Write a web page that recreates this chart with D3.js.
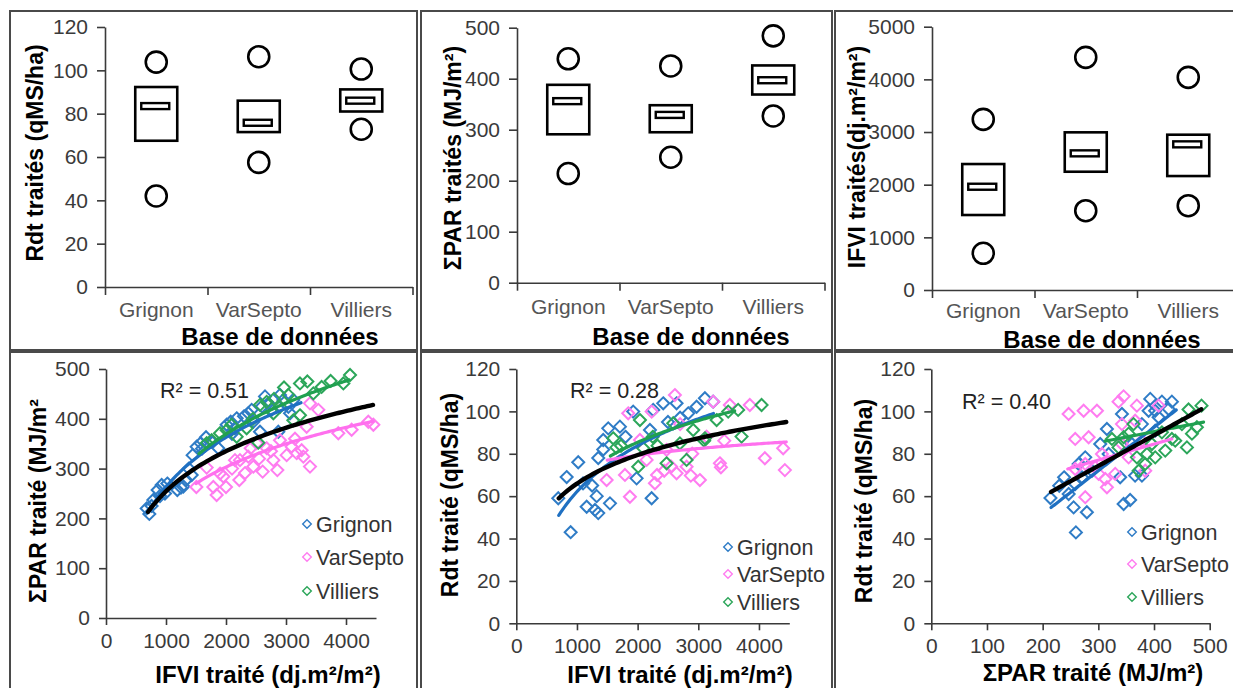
<!DOCTYPE html>
<html>
<head>
<meta charset="utf-8">
<script src="https://cdn.jsdelivr.net/npm/d3@7"></script>
<style>
  body { margin: 0; background: #fff; }
  svg { display: block; }
  text { font-family: "Liberation Sans", Arial, sans-serif; }
</style>
</head>
<body>
<svg id="chart" width="1233" height="688"></svg>
<script>
// ---- data ---------------------------------------------------------------
const sites = ["Grignon", "VarSepto", "Villiers"];

// Summary per site: low / high (circles), box bounds and median
const rdtLow  = [42, 57.5, 72.8];
const rdtQ1   = [67.5, 71.5, 81];
const rdtMed  = [83.5, 75.8, 86];
const rdtQ3   = [92.3, 86, 91.2];
const rdtHigh = [103.8, 106.3, 100.6];

const parLow  = [214, 246, 327];
const parQ1   = [291, 295, 369];
const parMed  = [356, 329, 397];
const parQ3   = [388, 348, 426];
const parHigh = [439, 425, 484];

const ifviLow  = [697, 1506, 1601];
const ifviQ1   = [1424, 2246, 2164];
const ifviMed  = [1961, 2595, 2766];
const ifviQ3   = [2392, 2994, 2949];
const ifviHigh = [3241, 4418, 4038];

const rdtTicks  = [0, 20, 40, 60, 80, 100, 120];
const parTicks  = [0, 100, 200, 300, 400, 500];
const ifviTicks = [0, 1000, 2000, 3000, 4000, 5000];
const ifviXTicks = [0, 1000, 2000, 3000, 4000];

// ΣPAR (MJ/m²) against IFVI (dj.m²/m²)
const parIfviGrignon = [[678,220],[722,209],[789,237],[861,257],[928,267],[1022,270],[983,250],[1189,257],[1289,264],[1333,277],[1428,287],[1444,327],[1511,344],[1578,351],[1667,363],[1761,354],[1872,341],[2011,388],[2078,394],[2150,381],[2178,401],[2372,411],[2428,418],[2456,394],[2567,374],[2650,445],[2706,431],[2761,418],[2872,374],[2900,448],[2956,438],[3039,424],[3067,411],[3122,438],[760,225],[1250,262],[1600,340],[2100,370],[2300,405],[2600,425],[1380,300],[900,245]];
const parIfviVarSepto = [[1506,263],[1678,302],[1789,263],[1844,247],[1956,284],[2000,263],[2150,317],[2222,277],[2317,291],[2372,324],[2411,341],[2456,304],[2611,294],[2678,341],[2789,317],[2856,297],[2900,357],[3011,327],[3094,344],[3178,331],[3261,337],[3289,324],[3400,304],[3344,384],[3400,431],[3539,418],[3872,371],[4094,378],[4372,394],[4456,388],[2511,351],[2233,317],[2100,300],[2550,320],[2750,335],[3150,360],[1900,290]];
const parIfviVilliers = [[1678,351],[1761,357],[1900,371],[2011,377],[2094,388],[2178,364],[2344,381],[2539,352],[2567,428],[2678,434],[2789,411],[2900,424],[2967,463],[3039,448],[3233,407],[3233,471],[3356,475],[3456,451],[3594,464],[3744,476],[3956,471],[4067,488],[3122,397],[2450,400],[2800,440]];

// Rdt (qMS/ha) against IFVI
const rdtIfviGrignon = [[692,59],[830,69],[896,43],[1021,76],[1160,55],[1325,60],[1297,53.5],[1351,52],[1544,56.6],[1516,92],[1708,92.8],[1351,78],[1433,82],[1927,99.9],[1983,68.4],[2231,59],[2257,100.7],[2422,103.8],[2642,103.8],[2834,99.1],[2972,102.2],[3109,106.2],[3245,104.6],[1433,86.5],[2203,91.2],[2500,95],[2700,97],[1800,88],[1250,65],[1100,66]];
const rdtIfviVarSepto = [[1489,67.6],[1791,70],[1845,99.1],[1873,59.7],[2231,99.9],[2285,66.1],[2320,70],[2614,107.7],[2642,70.8],[2807,73.9],[3026,67.6],[3245,104.6],[3356,75.5],[3520,103],[3849,103],[4097,77.9],[4399,82.6],[4427,72.3],[2038,86.5],[2477,81.8],[3137,88.1],[2900,80],[2148,77.1],[2550,74],[3373,73.6],[3428,86.2],[2877,69.7],[2438,72],[2700,94]];
const rdtIfviVilliers = [[1598,87.3],[1650,83],[2038,95.9],[2093,82.6],[2010,73.9],[2477,75.5],[2587,94.4],[2807,77.1],[2916,91.2],[3109,87.3],[3302,95.9],[3493,99.9],[3657,100.7],[3713,88.1],[4043,103],[2697,84.9],[2250,88],[1726,83.8],[2329,83.8],[3097,86.2]];

// Rdt (qMS/ha) against ΣPAR
const rdtParGrignon = [[214,59.1],[238.5,68.9],[255.6,54.7],[259.7,42.9],[264.6,75.2],[276.5,78.3],[279.4,52.4],[315.4,91.7],[342.4,98.8],[339.2,68.9],[345.4,56.3],[357.1,58.2],[366,69.7],[393.2,105.9],[402,100.3],[414.2,104.6],[432.1,104.6],[378.2,94],[229.8,64.9],[246.7,61],[258.5,65.7],[270.6,68.9],[288.5,72],[303.4,84.6],[318.5,79.9],[360.3,84.6],[378.3,69.7],[390.3,100.3],[408.2,97.2],[426.2,101.1],[402.2,90.9]];
const rdtParVarSepto = [[246.6,98.8],[273.6,100.3],[297.5,100.3],[258.5,87],[282.6,87.8],[276.5,59.5],[336.3,104.6],[345.4,107.1],[369.2,102.7],[408.2,102.7],[315.4,64.2],[384.2,72],[300.5,70.5],[342.4,94],[258.5,72.8],[276.5,75.2],[294.5,73.6],[306.5,79.9],[312.4,68.1],[330.3,70.5],[342.4,84.6],[354.4,78.3],[366.2,95.6],[378.3,86.2]];
const rdtParVilliers = [[324.4,87],[354.4,89.5],[363.2,94],[369.2,78.3],[384.2,75.2],[396.2,84.6],[414.2,90.1],[432.1,87],[459.1,83],[468.1,89.5],[462,100.9],[485.3,102.7],[336.3,83],[345.4,87.8],[372.4,72],[387.3,79.9],[402.2,78.3],[420.2,81.5],[438.1,86.2],[450.1,94],[477,92.5]];

// Trend lines: [a, b, xmin, xmax]; log fits y = a·ln(x) + b, linear fits y = a·x + b
const fitParIfvi = [[143.4, -727.4, 700, 3250], [115, -571, 1500, 4450], [154, -801.3, 1550, 4050]];
const fitParIfviAll = [116.2, -548.3, 700, 4450];
const fitRdtIfvi = [[31.3, -154.1, 700, 3250], [7.9, 19.2, 1500, 4450], [25.3, -106.9, 1550, 3600]];
const fitRdtIfviAll = [19.46, -68.5, 700, 4450];
const fitRdtPar = [[0.2047, 10.6, 215, 440], [0.0757, 54.3, 245, 432], [0.0508, 70.1, 312, 489]];
const fitRdtParAll = [0.1444, 30.95, 215, 485];

const r2Labels = ["R² = 0.51", "R² = 0.28", "R² = 0.40"];

// ---- styling --------------------------------------------------------------
const siteColors  = ["#2f7cc6", "#ff7cf0", "#2ca65a"];
const trendColors = ["#1f70c2", "#ff70ee", "#20a050"];
const axisColor = "#3a3a3a";
const tickTextColor = "#3a3a3a";
const numFmt = d3.format("d");

const svg = d3.select("#chart");
const defs = svg.append("defs");

const frames = [
  { id: "p1", x: 10,  y: 11,  w: 407, h: 339 },
  { id: "p2", x: 421, y: 11,  w: 411, h: 339 },
  { id: "p3", x: 835, y: 11,  w: 420, h: 339 },
  { id: "p4", x: 10,  y: 352, w: 407, h: 350 },
  { id: "p5", x: 421, y: 352, w: 411, h: 350 },
  { id: "p6", x: 835, y: 352, w: 420, h: 350 }
];
frames.forEach(f => {
  defs.append("clipPath").attr("id", "clip-" + f.id)
    .append("rect").attr("x", f.x).attr("y", f.y).attr("width", f.w).attr("height", f.h);
});

function styleAxis(sel) {
  sel.selectAll(".domain").attr("stroke", axisColor).attr("stroke-width", 1.6);
  sel.selectAll(".tick line").attr("stroke", axisColor).attr("stroke-width", 1.6);
  sel.selectAll(".tick text").attr("fill", tickTextColor)
    .style("font-size", "21px").style("font-family", '"Liberation Sans", Arial, sans-serif');
}

function yTitle(g, text, cx, cy) {
  g.append("text")
    .attr("transform", `translate(${cx},${cy}) rotate(-90)`)
    .attr("text-anchor", "middle").attr("dy", "0.35em")
    .style("font-size", "23px").style("font-weight", "bold").attr("fill", "#000")
    .text(text);
}
function xTitle(g, text, cx, baseline) {
  g.append("text").attr("x", cx).attr("y", baseline)
    .attr("text-anchor", "middle")
    .style("font-size", "24px").style("font-weight", "bold").attr("fill", "#000")
    .text(text);
}

// ---- summary panels (top row) --------------------------------------------
function drawSummary(p) {
  const g = svg.append("g").attr("clip-path", `url(#clip-${p.id})`);
  const x = d3.scaleBand().domain(sites).range([p.left, p.left + 3 * p.step]);
  const xb = d3.scaleLinear().domain([0, 3]).range(x.range());
  const y = d3.scaleLinear().domain([0, p.max]).range([p.bottom, p.top]);

  g.append("g").attr("transform", `translate(${p.left},0)`)
    .call(d3.axisLeft(y).tickValues(p.ticks).tickFormat(numFmt).tickSize(8).tickSizeOuter(0).tickPadding(9))
    .call(styleAxis);
  g.append("g").attr("transform", `translate(0,${p.bottom})`)
    .call(d3.axisBottom(xb).tickValues([0, 1, 2, 3]).tickSize(8).tickSizeOuter(0).tickFormat(""))
    .call(styleAxis);

  const rows = sites.map((s, i) => ({
    site: s, low: p.low[i], q1: p.q1[i], med: p.med[i], q3: p.q3[i], high: p.high[i]
  }));
  const cx = d => x(d.site) + x.bandwidth() / 2;

  g.selectAll(".box").data(rows).join("rect")
    .attr("x", d => cx(d) - 21).attr("width", 42)
    .attr("y", d => y(d.q3)).attr("height", d => y(d.q1) - y(d.q3))
    .attr("fill", "#fff").attr("stroke", "#000").attr("stroke-width", 2.6);
  g.selectAll(".med").data(rows).join("rect")
    .attr("x", d => cx(d) - 15).attr("width", 28)
    .attr("y", d => y(d.med) - 3).attr("height", 6)
    .attr("fill", "#fff").attr("stroke", "#000").attr("stroke-width", 2.4);
  ["low", "high"].forEach(k => {
    g.selectAll(".c" + k).data(rows).join("circle")
      .attr("cx", cx).attr("cy", d => y(d[k])).attr("r", 10.5)
      .attr("fill", "#fff").attr("stroke", "#000").attr("stroke-width", 2.6);
  });

  g.selectAll(".cat").data(rows).join("text")
    .attr("x", cx).attr("y", p.catY).attr("dy", "0.35em")
    .attr("text-anchor", "middle").attr("fill", "#555")
    .style("font-size", "21px").text(d => d.site);

  yTitle(g, p.yTitle, p.yTitleX, p.yTitleY);
  xTitle(g, "Base de données", p.xTitleX, p.xTitleY);
}

drawSummary({ id: "p1", left: 105, step: 102.5, top: 27, bottom: 287, max: 120, ticks: rdtTicks,
  low: rdtLow, q1: rdtQ1, med: rdtMed, q3: rdtQ3, high: rdtHigh,
  catY: 310, yTitle: "Rdt traités (qMS/ha)", yTitleX: 35, yTitleY: 153, xTitleX: 280, xTitleY: 345 });
drawSummary({ id: "p2", left: 517, step: 102.5, top: 27.7, bottom: 282.7, max: 500, ticks: parTicks,
  low: parLow, q1: parQ1, med: parMed, q3: parQ3, high: parHigh,
  catY: 307, yTitle: "ΣPAR traités (MJ/m²)", yTitleX: 453, yTitleY: 158, xTitleX: 691, xTitleY: 345 });
drawSummary({ id: "p3", left: 932, step: 102.5, top: 26.7, bottom: 290, max: 5000, ticks: ifviTicks,
  low: ifviLow, q1: ifviQ1, med: ifviMed, q3: ifviQ3, high: ifviHigh,
  catY: 311, yTitle: "IFVI traités(dj.m²/m²)", yTitleX: 857, yTitleY: 157, xTitleX: 1102, xTitleY: 348 });

// ---- scatter panels (bottom row) -----------------------------------------
const diamond = s => `M0,${-s}L${s},0L0,${s}L${-s},0Z`;

function drawScatter(p) {
  const g = svg.append("g").attr("clip-path", `url(#clip-${p.id})`);
  const x = d3.scaleLinear().domain([0, p.xmax]).range([p.left, p.right]);
  const y = d3.scaleLinear().domain([0, p.ymax]).range([p.bottom, p.top]);

  g.append("g").attr("transform", `translate(${p.left},0)`)
    .call(d3.axisLeft(y).tickValues(p.yTicks).tickFormat(numFmt).tickSize(7).tickSizeOuter(0).tickPadding(9))
    .call(styleAxis);
  g.append("g").attr("transform", `translate(0,${p.bottom})`)
    .call(d3.axisBottom(x).tickValues(p.xTicks).tickFormat(numFmt).tickSize(7).tickSizeOuter(0).tickPadding(8))
    .call(styleAxis);

  // points
  p.series.forEach((pts, i) => {
    g.append("g").selectAll("path").data(pts).join("path")
      .attr("transform", d => `translate(${x(d[0])},${y(d[1])})`)
      .attr("d", diamond(6)).attr("fill", "none")
      .attr("stroke", siteColors[i]).attr("stroke-width", 2);
  });

  // fitted curves
  const curve = (fit) => {
    const [a, b, x0, x1] = fit;
    const xs = d3.range(0, 81).map(k => x0 + (x1 - x0) * k / 80);
    return xs.map(v => [v, p.log ? a * Math.log(v) + b : a * v + b]);
  };
  const line = d3.line().x(d => x(d[0])).y(d => y(d[1])).curve(d3.curveLinear);
  p.fits.forEach((f, i) => {
    g.append("path").attr("d", line(curve(f))).attr("fill", "none")
      .attr("stroke", trendColors[i]).attr("stroke-width", 3.2).attr("stroke-linecap", "round");
  });
  g.append("path").attr("d", line(curve(p.fitAll))).attr("fill", "none")
    .attr("stroke", "#000").attr("stroke-width", 4.4).attr("stroke-linecap", "round");

  // R² label
  g.append("text").attr("x", p.r2x).attr("y", p.r2y).attr("fill", "#222")
    .style("font-size", "21.5px").text(p.r2);

  // legend
  const lg = g.append("g");
  sites.forEach((s, i) => {
    const ly = p.legY[i];
    lg.append("path").attr("transform", `translate(${p.legX},${ly})`)
      .attr("d", diamond(4.3)).attr("fill", "none")
      .attr("stroke", siteColors[i]).attr("stroke-width", 1.4);
    lg.append("text").attr("x", p.legX + 9).attr("y", ly).attr("dy", "0.35em")
      .attr("fill", "#333").style("font-size", "21.5px").text(s);
  });

  yTitle(g, p.yTitle, p.yTitleX, p.yTitleY);
  xTitle(g, p.xTitle, p.xTitleX, p.xTitleY);
}

drawScatter({ id: "p4", left: 106, right: 376, top: 369, bottom: 618, xmax: 4500, ymax: 500,
  xTicks: ifviXTicks, yTicks: parTicks, log: true,
  series: [parIfviGrignon, parIfviVarSepto, parIfviVilliers],
  fits: fitParIfvi, fitAll: fitParIfviAll,
  r2: r2Labels[0], r2x: 160, r2y: 398,
  legX: 307, legY: [524, 557, 591],
  yTitle: "ΣPAR traité (MJ/m²", yTitleX: 38, yTitleY: 501,
  xTitle: "IFVI traité (dj.m²/m²)", xTitleX: 268, xTitleY: 683 });

drawScatter({ id: "p5", left: 516.3, right: 789.3, top: 369, bottom: 623.3, xmax: 4500, ymax: 120,
  xTicks: ifviXTicks, yTicks: rdtTicks, log: true,
  series: [rdtIfviGrignon, rdtIfviVarSepto, rdtIfviVilliers],
  fits: fitRdtIfvi, fitAll: fitRdtIfviAll,
  r2: r2Labels[1], r2x: 570, r2y: 398,
  legX: 728, legY: [547, 574, 602],
  yTitle: "Rdt traité (qMS/ha)", yTitleX: 450, yTitleY: 495,
  xTitle: "IFVI traité (dj.m²/m²)", xTitleX: 680, xTitleY: 683 });

drawScatter({ id: "p6", left: 931.3, right: 1209.7, top: 369, bottom: 623.3, xmax: 500, ymax: 120,
  xTicks: parTicks, yTicks: rdtTicks, log: false,
  series: [rdtParGrignon, rdtParVarSepto, rdtParVilliers],
  fits: fitRdtPar, fitAll: fitRdtParAll,
  r2: r2Labels[2], r2x: 962, r2y: 409,
  legX: 1132, legY: [532, 564, 597],
  yTitle: "Rdt traité (qMS/ha)", yTitleX: 864, yTitleY: 501,
  xTitle: "ΣPAR traité (MJ/m²)", xTitleX: 1093, xTitleY: 681 });

// ---- panel frames -----------------------------------------------------------
svg.append("g").selectAll("rect").data(frames).join("rect")
  .attr("x", d => d.x).attr("y", d => d.y).attr("width", d => d.w).attr("height", d => d.h)
  .attr("fill", "none").attr("stroke", "#4a4a4a").attr("stroke-width", 2);
</script>
</body>
</html>
